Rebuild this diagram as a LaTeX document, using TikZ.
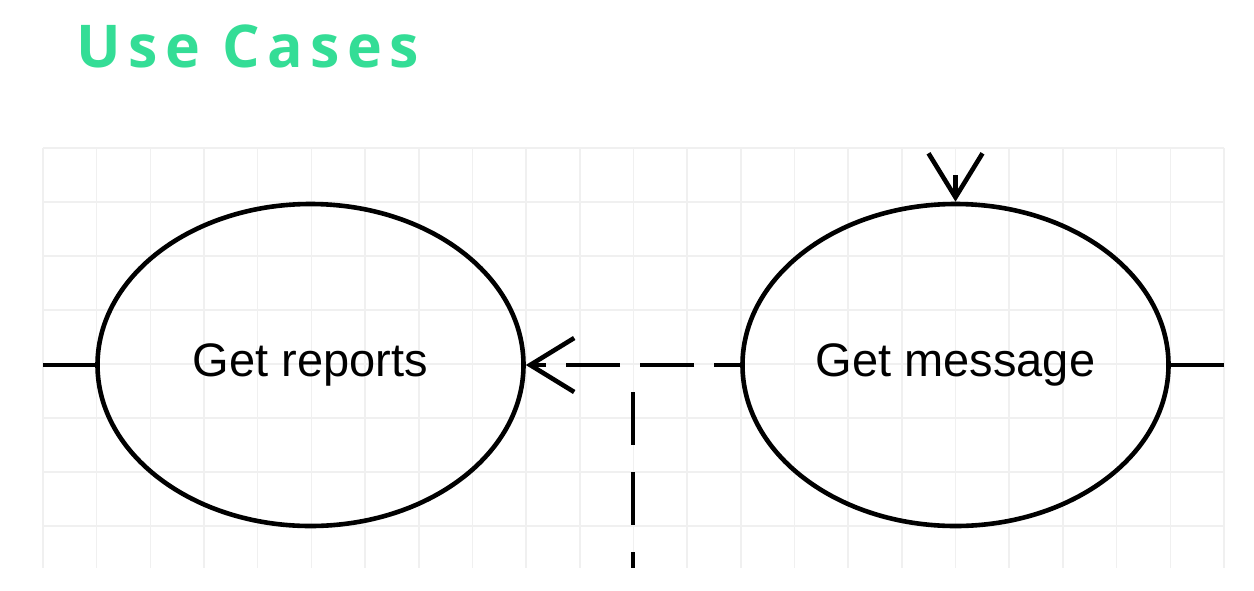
\documentclass[tikz,border=0pt]{standalone}
\usepackage{fontspec}
\setmainfont{Liberation Sans}
\newfontfamily\titlefont[LetterSpace=12.5]{Open Sans Bold}
\usetikzlibrary{shapes.geometric, arrows.meta}

\definecolor{titlegreen}{RGB}{52,221,150}
\definecolor{gridgray}{RGB}{240,240,240}

\tikzset{
	usecase/.style = {ellipse, draw, line width = 2.3pt, inner sep = 0pt,
		minimum width = 213pt, minimum height = 161pt, font = \fontsize{23.5pt}{28pt}\selectfont},
	assoc/.style = {line width = 2.3pt},
	dep/.style = {line width = 2.3pt, dash pattern = on 27pt off 10pt, dash phase = 14pt,
		-{Straight Barb[length = 22pt, width = 27pt, line width = 2.3pt]}},
	vdash/.style = {line width = 2.3pt, dash pattern = on 26.5pt off 13.5pt, dash phase = 26.5pt},
	gridline/.style = {gridgray, line width = 0.75pt}
}

\begin{document}
\begin{tikzpicture}[x = 0.5pt, y = -0.5pt]
			\useasboundingbox (0,0) rectangle (1254,590);

			% background grid
			\foreach \i in {0,...,22}
				\draw[gridline] ({43 + 53.68*\i},148) -- ({43 + 53.68*\i},568);
			\foreach \j in {0,...,7}
				\draw[gridline] (43,{148 + 54*\j}) -- (1224,{148 + 54*\j});

			\node[titlegreen, anchor = base west, inner sep = 0pt, font = \titlefont\fontsize{29.5pt}{34pt}\selectfont] (title) at (76,67) {Use Cases};

			% use cases
			\node[usecase] (reports) at (310.5,365) {Get reports};
			\node[usecase] (message) at (955.5,365) {Get message};

			\coordinate (left end) at (43,365);
			\coordinate (right end) at (1224,365);
			\coordinate (top end) at (955.5,148);
			\coordinate (branch) at (633,365);
			\coordinate (bottom end) at (633,568);

			\draw[assoc] (left end) -- (reports.west);
			\draw[assoc] (message.east) -- (right end);

			\draw[dep] (message.west) -- (reports.east);
			\draw[vdash] (branch) -- (bottom end);
			\draw[dep, dash phase = 26pt, dash pattern = on 26pt off 13.5pt] (top end) -- (message.north);
		\end{tikzpicture}
\end{document}
